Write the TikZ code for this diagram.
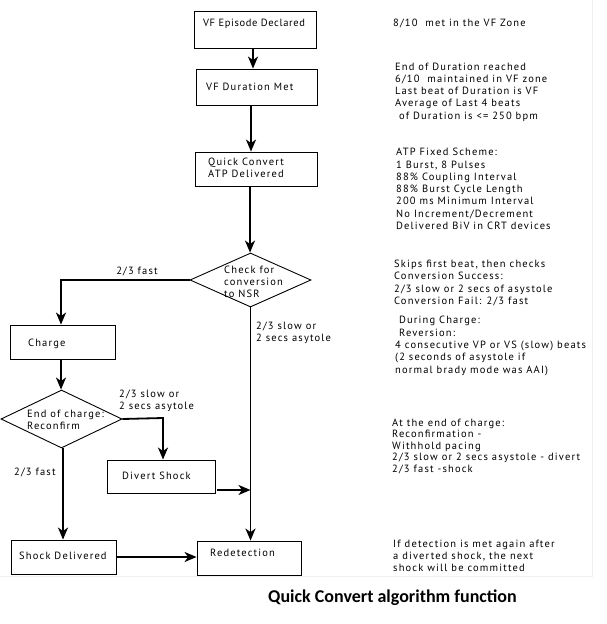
\documentclass[tikz,border=0pt]{standalone}
\usepackage{fontspec}
\setmainfont{PT Sans}
\newfontfamily\loosefont{PT Sans}[LetterSpace=11]
\newfontfamily\midfont{PT Sans}[LetterSpace=6]
\newfontfamily\capfont{Carlito}
\usetikzlibrary{shapes.geometric,arrows.meta}
\begin{document}
\begin{tikzpicture}[x=1pt,y=-1pt,
  box/.style={draw,line width=0.9pt,rectangle,inner sep=0pt},
  dia/.style={draw,line width=0.9pt,diamond,inner sep=0pt},
  txt/.style={inner sep=0pt,font=\loosefont\fontsize{10.5}{12.3}\selectfont,align=left},
  arr/.style={line width=1.8pt,-{Stealth[length=12pt,width=10pt,inset=3.5pt]}},
  ln/.style={line width=1.8pt}]
\useasboundingbox (0,0) rectangle (606,624);
\fill[white] (0,0) rectangle (606,624);
\draw[black!6,line width=0.6pt] (592,0) -- (592,576) -- (0,576);
% boxes
\node[box,minimum width=122pt,minimum height=37pt] (ep) at (255,29.5) {};
\node[txt,font=\midfont\fontsize{10.5}{12.3}\selectfont] (ept) at (254,24) {VF Episode Declared};
\node[box,minimum width=121pt,minimum height=36pt] (dm) at (256.5,87) {};
\node[txt,anchor=west] (dmt) at (206,87) {VF Duration Met};
\node[box,minimum width=122pt,minimum height=34pt] (qc) at (256,169) {};
\node[txt,anchor=west] (qct) at (208,168) {Quick Convert\\ATP Delivered};
\node[dia,minimum width=121pt,minimum height=54pt] (chk) at (250.5,280) {};
\node[txt,anchor=west] (chkt) at (224,282) {Check for\\ conversion\\to NSR};
\node[box,minimum width=105pt,minimum height=34pt] (chg) at (62.5,342) {};
\node[txt,anchor=west] (chgt) at (28,344) {Charge};
\node[dia,minimum width=121pt,minimum height=58pt] (eoc) at (61.5,419) {};
\node[txt,anchor=west] (eoct) at (27,420) {End of charge:\\Reconfirm};
\node[box,minimum width=108pt,minimum height=33pt] (div) at (161,476.5) {};
\node[txt,anchor=west] (divt) at (122,476) {Divert Shock};
\node[box,minimum width=105pt,minimum height=34pt] (shk) at (63.5,557) {};
\node[txt,anchor=west] (shkt) at (19,556) {Shock Delivered};
\node[box,minimum width=104pt,minimum height=34pt] (red) at (249,558) {};
\node[txt,anchor=west] (redt) at (210,553) {Redetection};
% connectors
\draw[arr] ([xshift=-2pt]ep.south) -- ([xshift=-2pt]ep.south |- dm.north);
\draw[arr] ([xshift=-5.5pt]dm.south) -- ([xshift=-5.5pt]dm.south |- qc.north);
\draw[arr] ([xshift=-6pt]qc.south) -- ([xshift=-6pt]qc.south |- chk.north);
\coordinate (c1) at (61,280);
\draw[arr] (chk.west) -- (c1) -- (c1 |- chg.north);
\draw[arr] (chk.south) -- (chk.south |- red.north);
\draw[arr] ([xshift=-1.5pt]chg.south) -- ([xshift=-1.5pt]chg.south |- eoc.north);
\coordinate (c2) at (163,418);
\draw[arr] (eoc.east) -- (c2) -- (c2 |- div.north);
\draw[arr] ([xshift=1.5pt]eoc.south) -- ([xshift=1.5pt]eoc.south |- shk.north);
\coordinate (j) at (250.5,490);
\draw[arr] ([xshift=2pt]div.east |- j) -- (j);
\draw[arr] (shk.east) -- (shk.east -| red.west);
% connector labels
\node[txt] (l1) at (137,271) {2/3 fast};
\node[txt,anchor=west] (l2) at (256,333) {2/3 slow or\\2 secs asytole};
\node[txt,anchor=west] (l3) at (119,401) {2/3 slow or\\2 secs asytole};
\node[txt,anchor=west] (l4) at (14,472) {2/3 fast};
% right notes
\node[txt,anchor=west] (n1) at (393,23) {8/10\ \ met in the VF Zone};
\node[txt,anchor=west] (n2) at (395,92) {End of Duration reached\\6/10\ \ maintained in VF zone\\Last beat of Duration is VF\\Average of Last 4 beats\\\ of Duration is <= 250 bpm};
\node[txt,anchor=west] (n3) at (396,189) {ATP Fixed Scheme:\\1 Burst, 8 Pulses\\88\% Coupling Interval\\88\% Burst Cycle Length\\200 ms Minimum Interval\\No Increment/Decrement\\Delivered BiV in CRT devices};
\node[txt,anchor=west] (n4) at (394,283) {Skips first beat, then checks\\Conversion Success:\\2/3 slow or 2 secs of asystole\\Conversion Fail: 2/3 fast};
\node[txt,anchor=west] (n5) at (395,346) {\ During Charge:\\\ Reversion:\\4 consecutive VP or VS (slow) beats\\(2 seconds of asystole if\\normal brady mode was AAI)};
\node[txt,anchor=west,font=\loosefont\fontsize{10.5}{11.5}\selectfont] (n6) at (392,446) {At the end of charge:\\Reconfirmation -\\Withhold pacing\\2/3 slow or 2 secs asystole - divert\\2/3 fast -shock};
\node[txt,anchor=west] (n7) at (393,556) {If detection is met again after\\a diverted shock, the next\\shock will be committed};
% caption
\node[inner sep=0pt,font=\capfont\bfseries\fontsize{18}{20}\selectfont] (cap) at (392.5,598) {Quick Convert algorithm function};
\end{tikzpicture}
\end{document}
